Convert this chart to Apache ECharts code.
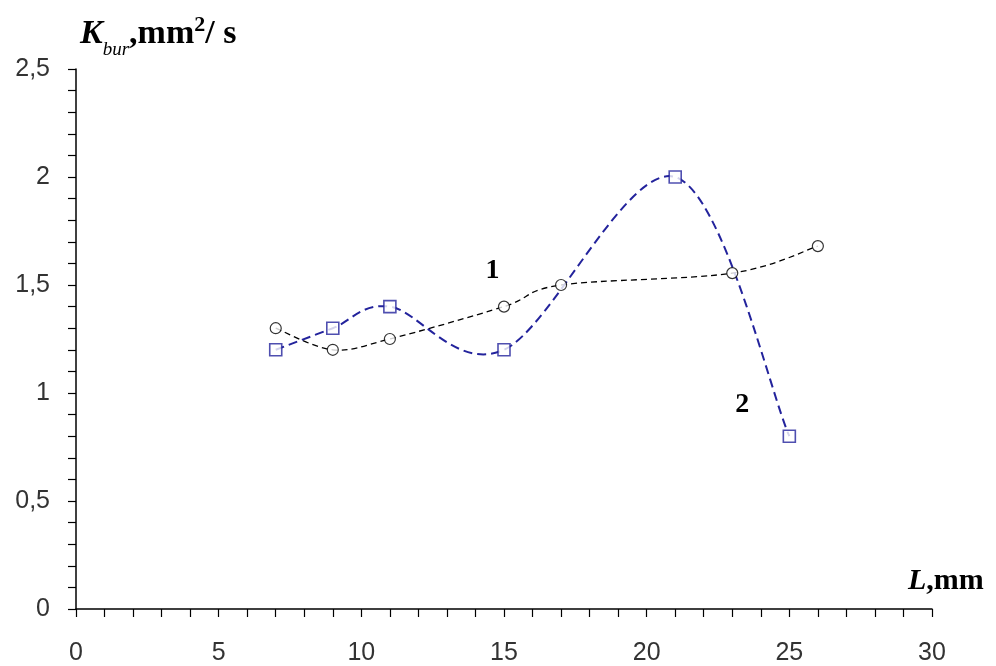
<!DOCTYPE html>
<html>
<head>
<meta charset="utf-8">
<script src="https://cdn.jsdelivr.net/npm/echarts@6/dist/echarts.min.js"></script>
<style>
html,body{margin:0;padding:0;background:#fff;width:996px;height:666px;overflow:hidden;}
#c{position:absolute;left:0;top:0;width:996px;height:666px;}
</style>
</head>
<body>
<div id="c"></div>
<script>
// Data
var s1X = [7, 9, 11, 15, 17, 23, 26];
var s1Y = [1.30, 1.20, 1.25, 1.40, 1.50, 1.555, 1.68];
var s2X = [7, 9, 11, 15, 21, 25];
var s2Y = [1.20, 1.30, 1.40, 1.20, 2.00, 0.80];
var xTickLabels = [0, 5, 10, 15, 20, 25, 30];
var yTickLabels = ['0', '0,5', '1', '1,5', '2', '2,5'];
var curveLabels = [{text: '1', x: 14.6, y: 1.565}, {text: '2', x: 23.35, y: 0.945}];

function pairs(xs, ys) { return xs.map(function (x, i) { return [x, ys[i]]; }); }

// Smoothed (Catmull-Rom) path through pixel points
function smoothPath(pts) {
  var n = pts.length;
  var d = 'M' + pts[0][0] + ' ' + pts[0][1];
  for (var i = 0; i < n - 1; i++) {
    var p0 = pts[Math.max(i - 1, 0)], p1 = pts[i], p2 = pts[i + 1], p3 = pts[Math.min(i + 2, n - 1)];
    var c1x = p1[0] + (p2[0] - p0[0]) / 6, c1y = p1[1] + (p2[1] - p0[1]) / 6;
    var c2x = p2[0] - (p3[0] - p1[0]) / 6, c2y = p2[1] - (p3[1] - p1[1]) / 6;
    d += ' C' + c1x + ' ' + c1y + ' ' + c2x + ' ' + c2y + ' ' + p2[0] + ' ' + p2[1];
  }
  return d;
}
function curveSeries(xs, ys, color, width, dash) {
  return {
    type: 'custom', data: pairs(xs, ys), silent: true, z: 2,
    encode: {x: 0, y: 1},
    renderItem: function (params, api) {
      if (params.dataIndex !== 0) return {type: 'group', children: []};
      var pts = xs.map(function (x, i) { return api.coord([x, ys[i]]); });
      return {
        type: 'path',
        shape: {pathData: smoothPath(pts)},
        style: {fill: 'none', stroke: color, lineWidth: width, lineDash: dash}
      };
    }
  };
}

var chart = echarts.init(document.getElementById('c'), null, {renderer: 'canvas', width: 996, height: 666});
var labelFont = {fontFamily: 'Liberation Sans', fontSize: 25, color: '#333'};
var BLUE = '#23239c';

var option = {
  animation: false,
  backgroundColor: '#fff',
  grid: {left: 76, right: 64, top: 69, bottom: 52, containLabel: false},
  xAxis: {
    type: 'value', min: 0, max: 30, interval: 1,
    axisLine: {show: true, onZero: false, lineStyle: {color: '#000', width: 1.5}},
    axisTick: {show: true, length: 8, lineStyle: {color: '#000', width: 1.2}},
    axisLabel: Object.assign({
      margin: 32,
      formatter: function (v) {
        var r = Math.round(v);
        return xTickLabels.indexOf(r) >= 0 ? String(r) : '';
      }
    }, labelFont),
    splitLine: {show: false}
  },
  yAxis: {
    type: 'value', min: 0, max: 2.5, interval: 0.1,
    axisLine: {show: true, onZero: false, lineStyle: {color: '#000', width: 1.5}},
    axisTick: {show: true, length: 8, lineStyle: {color: '#000', width: 1.2}},
    axisLabel: Object.assign({
      margin: 26,
      formatter: function (v) {
        var r = Math.round(v * 10);
        return r % 5 === 0 ? yTickLabels[r / 5] : '';
      }
    }, labelFont),
    splitLine: {show: false}
  },
  series: [
    curveSeries(s1X, s1Y, '#000', 1.3, [6, 4]),
    curveSeries(s2X, s2Y, BLUE, 2, [9, 5]),
    {
      type: 'scatter', data: pairs(s1X, s1Y), symbol: 'circle', symbolSize: 11, z: 4,
      itemStyle: {color: '#fff', borderColor: '#000', borderWidth: 1.2}
    },
    {
      type: 'scatter', data: pairs(s2X, s2Y), symbol: 'rect', symbolSize: 12, z: 5,
      itemStyle: {color: '#fff', borderColor: BLUE, borderWidth: 1.6}
    }
  ]
};
chart.setOption(option);

// Axis names built from measured text runs (baseline-positioned)
var ctx = document.createElement('canvas').getContext('2d');
function runs(tokens, x0, baseY) {
  var els = [];
  var x = x0;
  tokens.forEach(function (t) {
    var font = (t.style || 'normal') + ' ' + (t.weight || 'normal') + ' ' + t.size + 'px "Liberation Serif"';
    ctx.font = font;
    var base = baseY + (t.dy || 0);
    els.push({
      type: 'text', x: x, y: base - 0.3375 * t.size, silent: true,
      style: {text: t.text, font: font, fill: '#000', align: 'left', verticalAlign: 'middle'}
    });
    x += ctx.measureText(t.text).width + (t.gap || 0);
  });
  return els;
}
var yName = runs([
  {text: 'K', style: 'italic', weight: 'bold', size: 34},
  {text: 'bur', style: 'italic', size: 19, dy: 10},
  {text: ',mm', weight: 'bold', size: 34},
  {text: '2', weight: 'bold', size: 22, dy: -13},
  {text: '/ s', weight: 'bold', size: 34}
], 80, 46);
var xName = runs([
  {text: 'L', style: 'italic', weight: 'bold', size: 30},
  {text: ',mm', weight: 'bold', size: 30}
], 908, 591);

var labels = curveLabels.map(function (c) {
  var p = chart.convertToPixel({gridIndex: 0}, [c.x, c.y]);
  return {
    type: 'text', x: p[0], y: p[1], silent: true,
    style: {text: c.text, font: 'bold 28px "Liberation Serif"', fill: '#000', align: 'center', verticalAlign: 'middle'}
  };
});

chart.setOption({graphic: yName.concat(xName).concat(labels)});
</script>
</body>
</html>
